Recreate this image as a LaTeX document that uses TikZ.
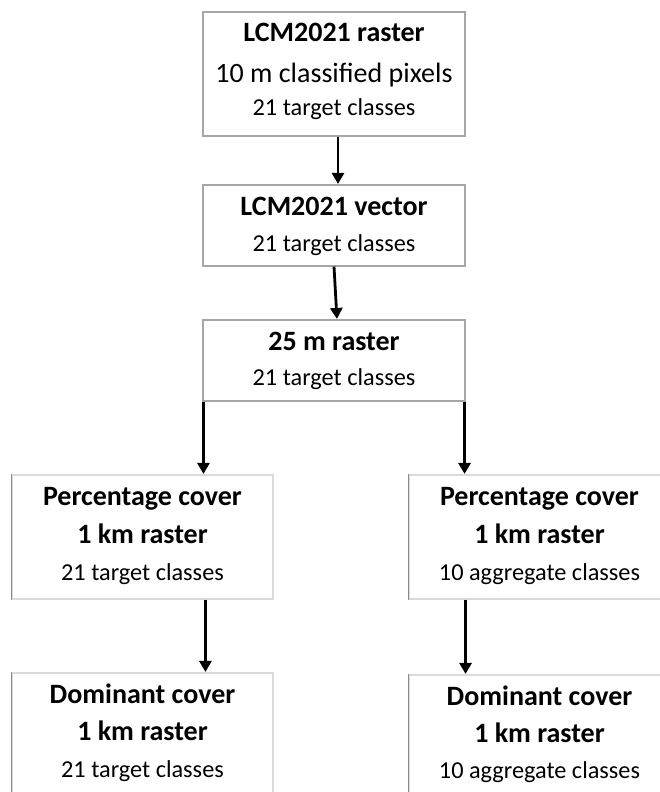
\documentclass[tikz,border=0pt]{standalone}
\usepackage{fontspec}
\setmainfont{Carlito}
\usetikzlibrary{arrows.meta}
\definecolor{topedge}{HTML}{A6A6A6}
\definecolor{lowedge}{HTML}{DADADA}
\definecolor{lowleft}{HTML}{8C8C8C}
\tikzset{
  topbox/.style={draw=topedge, line width=1.1pt, rectangle, inner sep=0pt},
  lowbox/.style={draw=lowedge, line width=1.1pt, rectangle, inner sep=0pt},
  bigb/.style={anchor=base, inner sep=0pt, font=\fontsize{28}{30}\selectfont\bfseries},
  bigr/.style={anchor=base, inner sep=0pt, font=\fontsize{28}{30}\selectfont},
  small/.style={anchor=base, inner sep=0pt, font=\fontsize{24.3}{26}\selectfont},
  flow/.style={line width=2.8pt, -{Triangle[width=12pt,length=11pt]}, shorten >=0.5pt}
}
\begin{document}
\begin{tikzpicture}[x=1pt,y=-1pt]
\useasboundingbox (0,0) rectangle (660,792);
\clip (0,0) rectangle (660,792);
\fill[white] (0,0) rectangle (660,792);
% boxes
\node[topbox, minimum width=262pt, minimum height=124pt] (b1) at (334,74) {};
\node[topbox, minimum width=262pt, minimum height=81pt] (b2) at (334,225.5) {};
\node[topbox, minimum width=262pt, minimum height=81pt] (b3) at (334,360.5) {};
\node[lowbox, minimum width=261pt, minimum height=124pt] (pl) at (142.5,537) {};
\node[lowbox, minimum width=261pt, minimum height=124pt] (pr) at (539.5,537) {};
\node[lowbox, minimum width=261pt, minimum height=140pt] (dl) at (142.5,743) {};
\node[lowbox, minimum width=261pt, minimum height=140pt] (dr) at (539.5,745) {};
% darker left edges of lower boxes
\draw[lowleft, line width=1.1pt] (pl.south west) -- (pl.north west);
\draw[lowleft, line width=1.1pt] (pr.south west) -- (pr.north west);
\draw[lowleft, line width=1.1pt] (dl.south west) -- (dl.north west);
\draw[lowleft, line width=1.1pt] (dr.south west) -- (dr.north west);
% texts
\node[bigb] (t1a) at (334,42) {LCM2021 raster};
\node[bigr] (t1b) at (334,82) {10 m classified pixels};
\node[small] (t1c) at (334,115) {21 target classes};
\node[bigb] (t2a) at (334,215) {LCM2021 vector};
\node[small] (t2b) at (334,251) {21 target classes};
\node[bigb] (t3a) at (334,350) {25 m raster};
\node[small] (t3b) at (334,385) {21 target classes};
\node[bigb] (tpla) at (142.5,505) {Percentage cover};
\node[bigb] (tplb) at (142.5,543) {1 km raster};
\node[small] (tplc) at (142.5,580) {21 target classes};
\node[bigb] (tpra) at (539.5,505) {Percentage cover};
\node[bigb] (tprb) at (539.5,543) {1 km raster};
\node[small] (tprc) at (539.5,580) {10 aggregate classes};
\node[bigb] (tdla) at (142.5,703) {Dominant cover};
\node[bigb] (tdlb) at (142.5,740) {1 km raster};
\node[small] (tdlc) at (142.5,777) {21 target classes};
\node[bigb] (tdra) at (539.5,705) {Dominant cover};
\node[bigb] (tdrb) at (539.5,742) {1 km raster};
\node[small] (tdrc) at (539.5,778) {10 aggregate classes};
% connectors
\draw[flow] ([xshift=4pt]b1.south) -- ([xshift=4pt]b2.north);
\draw[flow] (b2.south) -- ([xshift=3pt]b3.north);
\draw[flow] ([xshift=1pt]b3.south west) -- ([xshift=1pt]b3.south west |- pl.north);
\draw[flow] ([xshift=-1pt]b3.south east) -- ([xshift=-1pt]b3.south east |- pr.north);
\draw[flow] ([xshift=3pt]b3.south west |- pl.south) -- ([xshift=3pt]b3.south west |- dl.north);
\draw[flow] ([xshift=0pt]b3.south east |- pr.south) -- ([xshift=0pt]b3.south east |- dr.north);
\end{tikzpicture}
\end{document}
